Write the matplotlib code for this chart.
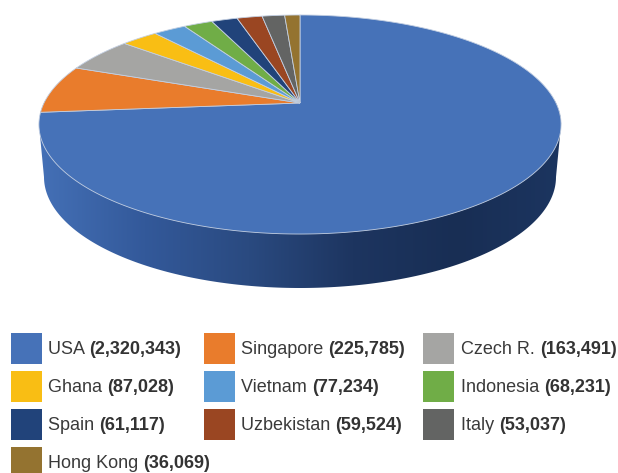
import numpy as np
import matplotlib
matplotlib.use("Agg")
import matplotlib.pyplot as plt
from matplotlib.colors import LinearSegmentedColormap
from matplotlib.patches import Polygon, Rectangle

plt.rcParams["font.family"] = ["Liberation Sans", "DejaVu Sans"]

countries = ["USA", "Singapore", "Czech R.", "Ghana", "Vietnam", "Indonesia",
             "Spain", "Uzbekistan", "Italy", "Hong Kong"]
visits = [2320343, 225785, 163491, 87028, 77234, 68231, 61117, 59524, 53037, 36069]
colors = ["#4672B8", "#E97C2C", "#A5A5A3", "#F9BE14", "#5B9BD5", "#70AD47",
          "#21437A", "#9A4622", "#636463", "#947330"]

# pie geometry in pixels, tilted disc drawn with a perspective projection
APEX_X, APEX_Y = 300, 103
WIDTH, BACK, TILT = 256, 105.3, 0.1964


def project(theta):
    """Angle clockwise from 12 o'clock to the point on the rim of the top face."""
    u, v = np.sin(theta), np.cos(theta)
    w = 1 + TILT * v
    return APEX_X + WIDTH * u / w, APEX_Y - BACK * v / w


def draw_side(ax):
    """Rim of the pie, only the blue slice shows from the front."""
    t = np.linspace(0, 2 * np.pi, 361)
    top_x, top_y = project(t)
    left, right = top_x.argmin(), top_x.argmax()
    s = np.linspace(0, np.pi, 181)
    low_x, low_y = 300 + 256 * np.cos(s), 177 + 111 * np.sin(s)
    # bottom curve right to left, then over the back of the top face
    back = np.r_[left:361, 0:right + 1]
    xy = np.c_[np.r_[low_x, top_x[back]], np.r_[low_y, top_y[back]]]
    clip = Polygon(xy, closed=True, transform=ax.transData, fc="none", ec="none")
    ax.add_patch(clip)
    cmap = LinearSegmentedColormap.from_list(
        "rim", ["#4470B6", "#33599A", "#2A4A80", "#1D3560", "#182E54", "#1C3560"])
    im = ax.imshow(np.linspace(0, 1, 256)[None, :], cmap=cmap, aspect="auto",
                   extent=(40, 562, 300, 100), zorder=1)
    im.set_clip_path(clip)


fig = plt.figure(figsize=(6.18, 4.73), dpi=100)
ax = fig.add_axes([0, 0, 1, 1])
draw_side(ax)
ax.set_xlim(0, 618)
ax.set_ylim(473, 0)
ax.axis("off")

# top face
edges = np.r_[0, np.cumsum(visits)] / np.sum(visits) * 2 * np.pi
for i in range(len(visits)):
    t = np.linspace(edges[i], edges[i + 1], 300)
    x, y = project(t)
    ax.fill(np.r_[APEX_X, x], np.r_[APEX_Y, y], fc=colors[i], ec="#C3CFE2",
            lw=0.6, zorder=2)

# legend, 3 columns
col_x = [11, 204, 423]
text_x = [48, 241, 461]
fig.canvas.draw()
renderer = fig.canvas.get_renderer()
for i, name in enumerate(countries):
    row, col = divmod(i, 3)
    y = 333 + row * 38
    ax.add_patch(Rectangle((col_x[col], y), 31, 31, fc=colors[i], ec="none", zorder=3))
    label = ax.text(text_x[col], y + 16, name + " ", fontsize=13, color="#3A3A3A",
                    va="center", ha="left", zorder=4)
    box = label.get_window_extent(renderer)
    # the extent already holds the trailing space
    ax.text(box.x1, y + 16, "({:,})".format(visits[i]), fontsize=13,
            fontweight="bold", color="#333333", va="center", ha="left", zorder=4)

fig.savefig("out.png", dpi=100)
